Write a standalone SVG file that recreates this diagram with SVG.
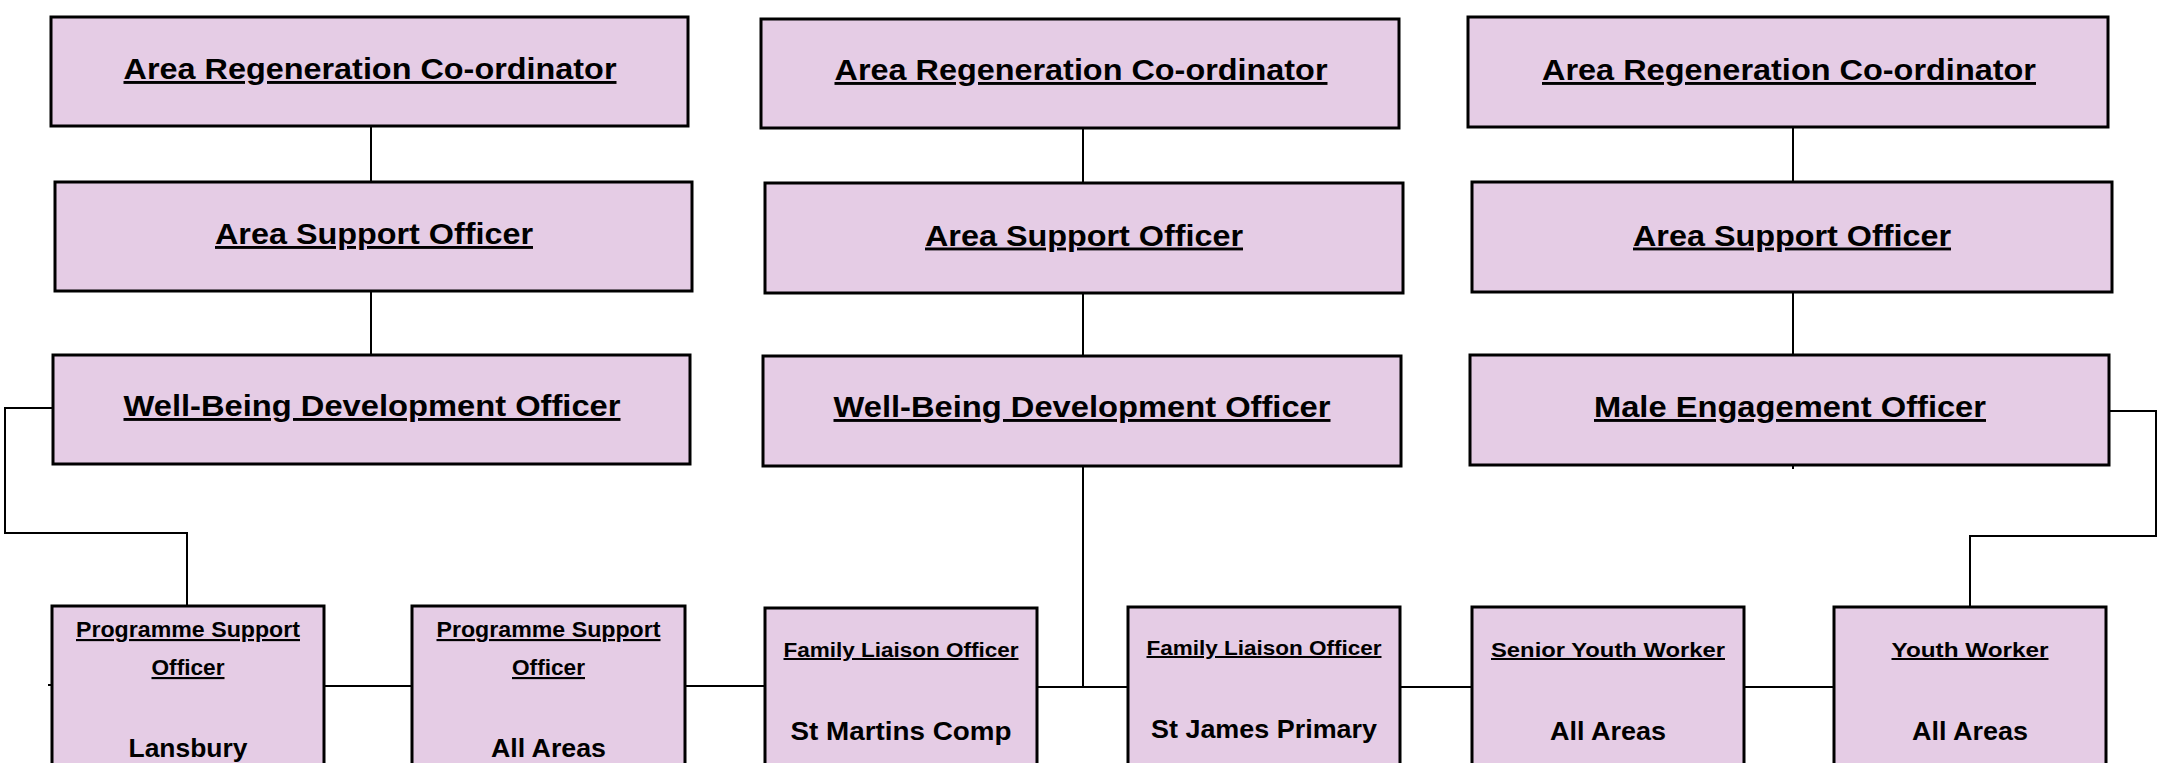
<svg xmlns="http://www.w3.org/2000/svg" width="2158" height="763" viewBox="0 0 2158 763">
<style>
.box{fill:#E5CCE5;stroke:#000;stroke-width:3}
.t{font-family:"Liberation Sans Narrow","Liberation Sans",Arial,sans-serif;font-weight:bold;fill:#000;text-anchor:middle}
.u{text-decoration:underline}
.h{font-size:29px}
.s{font-size:21.5px}
.s2{font-size:20px}
.loc{font-size:25px}
.c{fill:none;stroke:#000;stroke-width:2}
</style>
<rect width="2158" height="763" fill="#fff"/>
<g id="connectors">
<path class="c" d="M371 126V182M371 291V355"/>
<path class="c" d="M1083 128V183M1083 293V356M1083 466V687"/>
<path class="c" d="M1793 127V182M1793 292V355M1793 465V469"/>
<path class="c" d="M53 408H5V533H187V606"/>
<path class="c" d="M2109 411H2156V536H1970V607"/>
<path class="c" d="M324 686H412M685 686H765M1037 687H1128M1400 687H1472M1744 687H1834"/>
<path class="c" d="M48 685H52"/>
</g>
<g id="arc-left"><rect class="box" x="51" y="17" width="637" height="109"/><text class="t u h" x="370" y="79" textLength="493" lengthAdjust="spacingAndGlyphs">Area Regeneration Co-ordinator</text></g>
<g id="aso-left"><rect class="box" x="55" y="182" width="637" height="109"/><text class="t u h" x="374" y="244" textLength="318" lengthAdjust="spacingAndGlyphs">Area Support Officer</text></g>
<g id="wbd-left"><rect class="box" x="53" y="355" width="637" height="109"/><text class="t u h" x="372" y="416" textLength="497" lengthAdjust="spacingAndGlyphs">Well-Being Development Officer</text></g>
<g id="arc-mid"><rect class="box" x="761" y="19" width="638" height="109"/><text class="t u h" x="1081" y="80" textLength="493" lengthAdjust="spacingAndGlyphs">Area Regeneration Co-ordinator</text></g>
<g id="aso-mid"><rect class="box" x="765" y="183" width="638" height="110"/><text class="t u h" x="1084" y="245.5" textLength="318" lengthAdjust="spacingAndGlyphs">Area Support Officer</text></g>
<g id="wbd-mid"><rect class="box" x="763" y="356" width="638" height="110"/><text class="t u h" x="1082" y="417" textLength="497" lengthAdjust="spacingAndGlyphs">Well-Being Development Officer</text></g>
<g id="arc-right"><rect class="box" x="1468" y="17" width="640" height="110"/><text class="t u h" x="1789" y="80" textLength="494" lengthAdjust="spacingAndGlyphs">Area Regeneration Co-ordinator</text></g>
<g id="aso-right"><rect class="box" x="1472" y="182" width="640" height="110"/><text class="t u h" x="1792" y="245.5" textLength="318" lengthAdjust="spacingAndGlyphs">Area Support Officer</text></g>
<g id="meo-right"><rect class="box" x="1470" y="355" width="639" height="110"/><text class="t u h" x="1790" y="417" textLength="392" lengthAdjust="spacingAndGlyphs">Male Engagement Officer</text></g>
<g id="pso-lansbury"><rect class="box" x="52" y="606" width="272" height="170"/><text class="t u s" x="188" y="637" textLength="224" lengthAdjust="spacingAndGlyphs">Programme Support</text><text class="t u s" x="188" y="675" textLength="73" lengthAdjust="spacingAndGlyphs">Officer</text><text class="t loc" x="188" y="757" textLength="119" lengthAdjust="spacingAndGlyphs">Lansbury</text></g>
<g id="pso-all"><rect class="box" x="412" y="606" width="273" height="170"/><text class="t u s" x="548.5" y="637" textLength="224" lengthAdjust="spacingAndGlyphs">Programme Support</text><text class="t u s" x="548.5" y="675" textLength="73" lengthAdjust="spacingAndGlyphs">Officer</text><text class="t loc" x="548.5" y="757" textLength="115" lengthAdjust="spacingAndGlyphs">All Areas</text></g>
<g id="flo-stmartins"><rect class="box" x="765" y="608" width="272" height="170"/><text class="t u s2" x="901" y="657" textLength="235" lengthAdjust="spacingAndGlyphs">Family Liaison Officer</text><text class="t loc" x="901" y="740" textLength="221" lengthAdjust="spacingAndGlyphs">St Martins Comp</text></g>
<g id="flo-stjames"><rect class="box" x="1128" y="607" width="272" height="170"/><text class="t u s2" x="1264" y="655" textLength="235" lengthAdjust="spacingAndGlyphs">Family Liaison Officer</text><text class="t loc" x="1264" y="738" textLength="226" lengthAdjust="spacingAndGlyphs">St James Primary</text></g>
<g id="syw"><rect class="box" x="1472" y="607" width="272" height="170"/><text class="t u s2" x="1608" y="657" textLength="234" lengthAdjust="spacingAndGlyphs">Senior Youth Worker</text><text class="t loc" x="1608" y="740" textLength="116" lengthAdjust="spacingAndGlyphs">All Areas</text></g>
<g id="yw"><rect class="box" x="1834" y="607" width="272" height="170"/><text class="t u s2" x="1970" y="657" textLength="157" lengthAdjust="spacingAndGlyphs">Youth Worker</text><text class="t loc" x="1970" y="740" textLength="116" lengthAdjust="spacingAndGlyphs">All Areas</text></g>
</svg>
